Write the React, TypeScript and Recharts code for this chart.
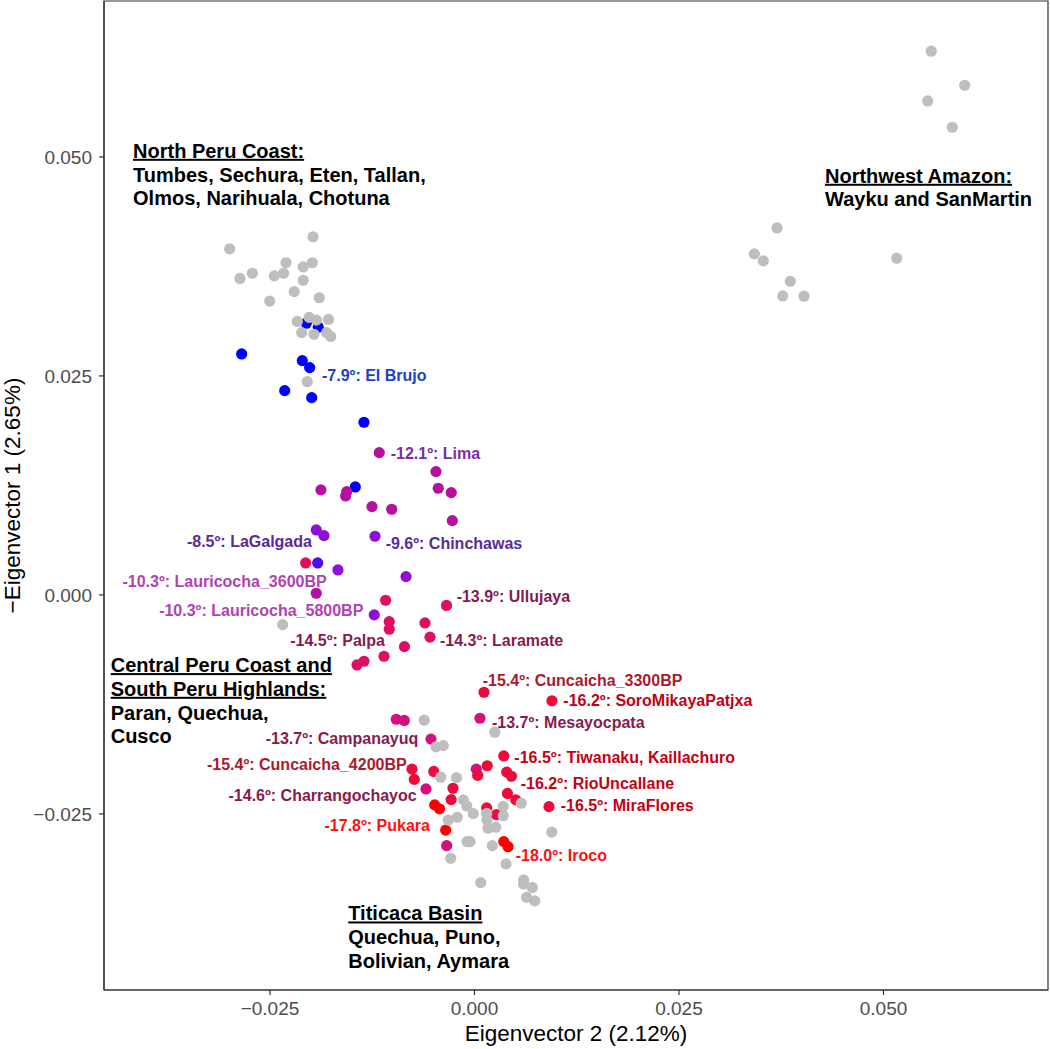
import React from "react";
import { ScatterChart, Scatter, XAxis, YAxis, Label, ReferenceArea } from "recharts";

const FONT = "'Liberation Sans', Arial, Helvetica, sans-serif";

// [eigenvector 2, -eigenvector 1]
const grayPoints: number[][] = [
  [-0.02993, 0.0395], [-0.02867, 0.03613], [-0.02716, 0.03672], [-0.02504, 0.03354],
  [-0.02447, 0.03642], [-0.02333, 0.03672], [-0.02304, 0.03792], [-0.02204, 0.03462],
  [-0.02094, 0.03744], [-0.02094, 0.03592], [-0.01974, 0.04089], [-0.01983, 0.03792],
  [-0.01897, 0.03393], [-0.02166, 0.03122], [-0.02021, 0.03168], [-0.01932, 0.03137],
  [-0.01785, 0.03145], [-0.02112, 0.02994], [-0.01962, 0.02976], [-0.01809, 0.02994],
  [-0.01757, 0.02951], [-0.02044, 0.02434], [-0.02345, -0.00339],
  [0.05584, 0.06207], [0.05993, 0.05818], [0.0554, 0.05639], [0.05841, 0.05339],
  [0.03698, 0.04189], [0.03421, 0.03893], [0.03531, 0.03813], [0.03861, 0.03581],
  [0.03768, 0.03413], [0.04028, 0.0341], [0.05161, 0.03844],
  [-0.00614, -0.0143], [0.00248, -0.01567], [-0.00471, -0.01735], [-0.00381, -0.0172],
  [-0.00413, -0.02081], [-0.0022, -0.02086], [0.00571, -0.02378], [-0.00137, -0.0234],
  [-0.00094, -0.02409], [-0.00015, -0.02497], [0.00351, -0.02414], [0.00149, -0.02494],
  [0.00352, -0.02521], [-0.0032, -0.02571], [-0.00211, -0.02538], [0.00153, -0.02568],
  [0.00165, -0.02663], [0.0026, -0.02652], [0.00945, -0.02708], [-0.00091, -0.02816],
  [-0.00055, -0.02816], [0.00218, -0.02862], [-0.00291, -0.03006], [0.00385, -0.03071],
  [0.00076, -0.03284], [0.00601, -0.03253], [0.00599, -0.03299], [0.00707, -0.03339],
  [0.00638, -0.03453], [0.00737, -0.03493],
];

const bluePoints: number[][] = [
  [-0.02056, 0.03102], [-0.0191, 0.03056], [-0.02846, 0.02751], [-0.02105, 0.02675],
  [-0.02015, 0.02595], [-0.0232, 0.02332], [-0.0199, 0.02252], [-0.01351, 0.01971],
  [-0.01457, 0.01233],
];

const violetPoints: number[][] = [[-0.01917, 0.00365]];

const purplePoints: number[][] = [
  [-0.01934, 0.00742], [-0.0184, 0.00677], [-0.01216, 0.0067], [-0.01669, 0.00285],
  [-0.00837, 0.00209], [-0.01225, -0.00228],
];

const magentaPoints: number[][] = [
  [-0.01164, 0.01624], [-0.00471, 0.01408], [-0.00443, 0.01218], [-0.00284, 0.01168],
  [-0.01877, 0.01199], [-0.01562, 0.01179], [-0.01575, 0.0113], [-0.01253, 0.01008],
  [-0.01012, 0.00978], [-0.00271, 0.00848], [-0.01934, 0.00019],
];

const crimsonPoints: number[][] = [
  [-0.02064, 0.00365], [-0.01086, -0.00061], [-0.00342, -0.0012], [-0.01042, -0.00305],
  [-0.01042, -0.00392], [-0.00605, -0.0032], [-0.00544, -0.00482], [-0.00856, -0.0059],
  [-0.01106, -0.007], [-0.01351, -0.00757], [-0.01436, -0.00799],
];

const rosePoints: number[][] = [
  [-0.00956, -0.01419], [-0.00858, -0.01433], [0.00067, -0.01408], [-0.00532, -0.01646],
  [0.00022, -0.01989], [-0.00593, -0.02215], [-0.0034, -0.02862],
];

const redPoints: number[][] = [
  [0.00116, -0.01111], [0.00947, -0.01208], [0.00358, -0.01838], [-0.00764, -0.01989],
  [-0.00498, -0.02015], [0.00156, -0.0195], [0.00394, -0.02023], [0.00452, -0.0207],
  [-0.00736, -0.02106], [-0.00263, -0.02207], [0.00403, -0.02266], [0.00505, -0.0234],
  [0.00911, -0.02417], [-0.00285, -0.02337], [0.00149, -0.02432], [0.00267, -0.02508],
  [0.00039, -0.0206],
];

const brightRedPoints: number[][] = [
  [-0.00487, -0.02397], [-0.00428, -0.02441], [-0.00352, -0.02685], [0.00358, -0.02816],
  [0.0041, -0.02874],
];

// drawn in this order; the grey reference samples sit on top
const series = [
  { name: "-7.9", color: "#0000ff", points: bluePoints },
  { name: "-8.5b", color: "#4a0cf0", points: violetPoints },
  { name: "-9", color: "#8e10d8", points: purplePoints },
  { name: "-12", color: "#b8109e", points: magentaPoints },
  { name: "-14", color: "#dc0f62", points: crimsonPoints },
  { name: "-13.7", color: "#d3107c", points: rosePoints },
  { name: "-16", color: "#ee0a3a", points: redPoints },
  { name: "-18", color: "#ff0000", points: brightRedPoints },
  { name: "other", color: "#bebebe", points: grayPoints },
];

// site labels: x, y (left or right edge, vertical centre), text, colour, anchor
const siteLabels = [
  { x: -0.01864, y: 0.02511, text: "-7.9º: El Brujo", color: "#1a44bf", anchor: "start" },
  { x: -0.01024, y: 0.01621, text: "-12.1º: Lima", color: "#7a2ca6", anchor: "start" },
  { x: -0.01987, y: 0.00608, text: "-8.5º: LaGalgada", color: "#5a2a96", anchor: "end" },
  { x: -0.01086, y: 0.0059, text: "-9.6º: Chinchawas", color: "#5a2a96", anchor: "start" },
  { x: -0.01807, y: 0.0016, text: "-10.3º: Lauricocha_3600BP", color: "#b043b0", anchor: "end" },
  { x: -0.01359, y: -0.00179, text: "-10.3º: Lauricocha_5800BP", color: "#b043b0", anchor: "end" },
  { x: -0.00218, y: -0.00019, text: "-13.9º: Ullujaya", color: "#871a50", anchor: "start" },
  { x: -0.00422, y: -0.00522, text: "-14.3º: Laramate", color: "#871a50", anchor: "start" },
  { x: -0.01094, y: -0.00514, text: "-14.5º: Palpa", color: "#871a50", anchor: "end" },
  { x: 0.001, y: -0.0097, text: "-15.4º: Cuncaicha_3300BP", color: "#ad192d", anchor: "start" },
  { x: 0.01086, y: -0.01199, text: "-16.2º: SoroMikayaPatjxa", color: "#c30016", anchor: "start" },
  { x: 0.00214, y: -0.01453, text: "-13.7º: Mesayocpata", color: "#871a50", anchor: "start" },
  { x: 0.00487, y: -0.01857, text: "-16.5º: Tiwanaku, Kaillachuro", color: "#c30016", anchor: "start" },
  { x: 0.00565, y: -0.0215, text: "-16.2º: RioUncallane", color: "#c30016", anchor: "start" },
  { x: 0.01054, y: -0.02405, text: "-16.5º: MiraFlores", color: "#c30016", anchor: "start" },
  { x: 0.00504, y: -0.02968, text: "-18.0º: Iroco", color: "#ff1010", anchor: "start" },
  { x: -0.00687, y: -0.01636, text: "-13.7º: Campanayuq", color: "#871a50", anchor: "end" },
  { x: -0.00829, y: -0.01929, text: "-15.4º: Cuncaicha_4200BP", color: "#ad192d", anchor: "end" },
  { x: -0.00707, y: -0.02291, text: "-14.6º: Charrangochayoc", color: "#871a50", anchor: "end" },
  { x: -0.00544, y: -0.02626, text: "-17.8º: Pukara", color: "#ff1010", anchor: "end" },
];

const northCoastLines = ["North Peru Coast:", "Tumbes, Sechura, Eten, Tallan,", "Olmos, Narihuala, Chotuna"];
const amazonLines = ["Northwest Amazon:", "Wayku and SanMartin"];
const centralLines = ["Central Peru Coast and", "South Peru Highlands:", "Paran, Quechua,", "Cusco"];
const titicacaLines = ["Titicaca Basin", "Quechua, Puno,", "Bolivian, Aymara"];

const regionLabels = [
  { x: -0.04174, y: 0.05072, lines: northCoastLines, heading: 1 },
  { x: 0.04285, y: 0.04787, lines: amazonLines, heading: 1 },
  { x: -0.04447, y: -0.00799, lines: centralLines, heading: 2 },
  { x: -0.01543, y: -0.03634, lines: titicacaLines, heading: 1 },
];

const xTicks = [-0.025, 0, 0.025, 0.05];
const yTicks = [-0.025, 0, 0.025, 0.05];
const xDomain = [-0.04529, 0.07011];
const yDomain = [-0.0451, 0.0678];

const fmt = (v: number) => (v < 0 ? "\u2212" : "") + Math.abs(v).toFixed(3);

const Dot = (color: string) => (props: any) => (
  <circle cx={props.cx} cy={props.cy} r={5.6} fill={color} />
);

const SiteText = (props: any) => {
  const { cx, cy, payload } = props;
  return (
    <text
      x={cx}
      y={cy + 5.8}
      textAnchor={payload.anchor}
      fill={payload.color}
      fontSize={16}
      fontWeight="bold"
      fontFamily={FONT}
    >
      {payload.text}
    </text>
  );
};

const RegionText = (props: any) => {
  const { cx, cy, payload } = props;
  return (
    <text x={cx} y={cy} fontSize={20} fontWeight="bold" fill="#000" fontFamily={FONT}>
      {payload.lines.map((line: string, i: number) => (
        <tspan
          key={i}
          x={cx}
          y={cy + 7.2 + i * 23.7}
          textDecoration={i < payload.heading ? "underline" : undefined}
        >
          {line}
        </tspan>
      ))}
    </text>
  );
};

const YTitle = (props: any) => {
  const vb = props.viewBox;
  const x = vb.x + 20;
  const y = vb.y + vb.height / 2;
  return (
    <text
      x={x}
      y={y}
      transform={`rotate(-90, ${x}, ${y})`}
      textAnchor="middle"
      fontSize={22.5}
      fontFamily={FONT}
      fill="#000"
    >
      {"\u2212Eigenvector 1 (2.65%)"}
    </text>
  );
};

const toData = (pts: number[][]) => pts.map(([x, y]) => ({ x, y }));

export default function App() {
  const axisStroke = { stroke: "#333333", strokeWidth: 1.2 };
  const tickStyle = { fill: "#4d4d4d", fontSize: 19, fontFamily: FONT };
  return (
    <div style={{ position: "absolute", left: 0, top: 0, width: 1050, height: 1049, background: "#fff" }}>
      <ScatterChart width={1050} height={1049} margin={{ top: 1, right: 2, bottom: 0, left: 0 }}>
        <XAxis
          type="number"
          dataKey="x"
          domain={xDomain}
          ticks={xTicks}
          tickFormatter={fmt}
          allowDataOverflow
          height={59}
          tickSize={5}
          tickMargin={7}
          tick={tickStyle}
          axisLine={axisStroke}
          tickLine={axisStroke}
          label={{
            value: "Eigenvector 2 (2.12%)",
            position: "insideBottom",
            offset: 8,
            fill: "#000",
            fontSize: 22.5,
            fontFamily: FONT,
          }}
        />
        <YAxis
          type="number"
          dataKey="y"
          domain={yDomain}
          ticks={yTicks}
          tickFormatter={fmt}
          allowDataOverflow
          width={104}
          tickSize={5}
          tickMargin={7}
          tick={tickStyle}
          axisLine={axisStroke}
          tickLine={axisStroke}
        >
          <Label content={YTitle} />
        </YAxis>
        <ReferenceArea
          x1={xDomain[0]}
          x2={xDomain[1]}
          y1={yDomain[0]}
          y2={yDomain[1]}
          fill="none"
          stroke="#333333"
          strokeWidth={1.2}
          ifOverflow="visible"
        />
        {series.map((s) => (
          <Scatter
            key={s.name}
            name={s.name}
            data={toData(s.points)}
            shape={Dot(s.color)}
            isAnimationActive={false}
          />
        ))}
        <Scatter name="sites" data={siteLabels} shape={SiteText} isAnimationActive={false} />
        <Scatter name="regions" data={regionLabels} shape={RegionText} isAnimationActive={false} />
      </ScatterChart>
    </div>
  );
}
